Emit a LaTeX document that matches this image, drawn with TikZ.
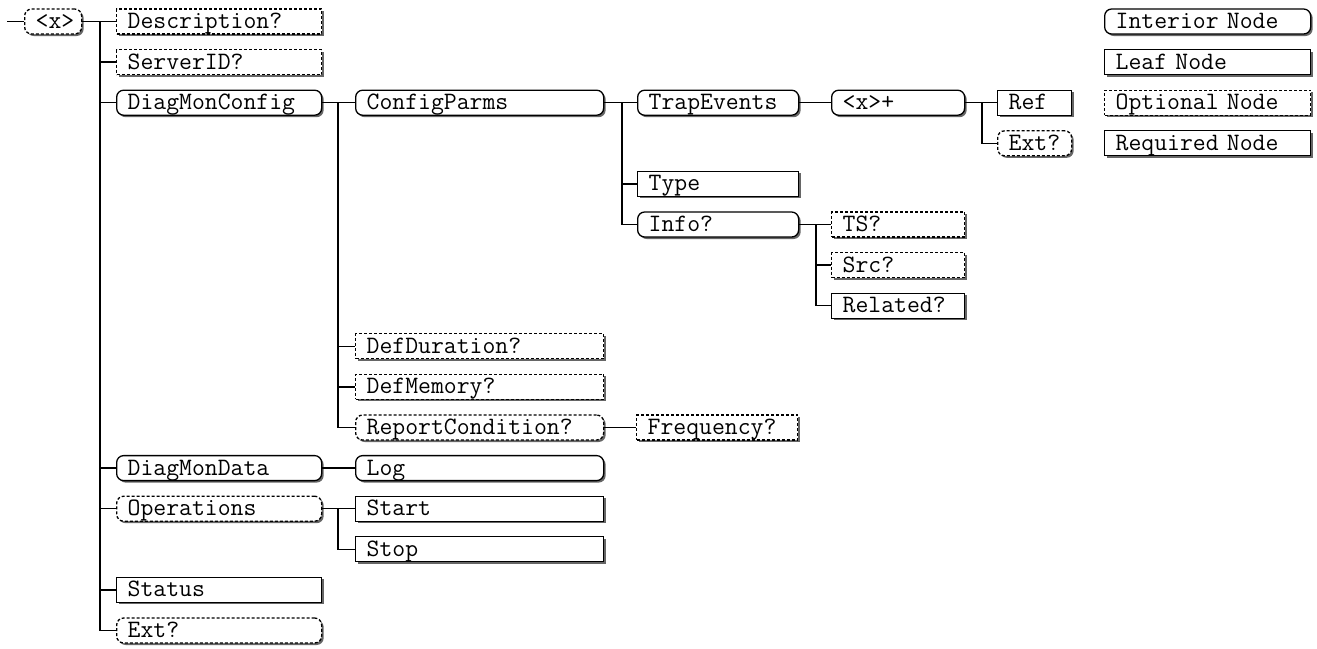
\documentclass[tikz,border=0pt]{standalone}
\usepackage{fontspec}
\usetikzlibrary{shadows,calc}
\tikzset{
  box/.style={draw, line width=1.3pt, fill=white, font=\ttfamily\fontsize{25}{27}\selectfont,
    minimum height=25pt, inner ysep=0pt, text height=19pt, text depth=5pt,
    inner xsep=11pt, anchor=west, align=left,
    drop shadow={shadow xshift=2pt, shadow yshift=-2pt, fill=black!60, opacity=1}},
  intn/.style={box, rounded corners=7pt},
  leaf/.style={box},
  opt/.style={dash pattern=on 3pt off 2pt},
  wA/.style={text width=35pt},
  wB/.style={text width=183pt},
  wC/.style={text width=226pt},
  wD/.style={text width=139pt},
  wE/.style={text width=111pt},
  wF/.style={text width=52pt},
  wL/.style={text width=184pt},
  conn/.style={line width=1.3pt, black}
}
\begin{document}
\begin{tikzpicture}[x=1pt,y=-1pt]
\useasboundingbox[fill=white] (0,0) rectangle (1317,648);
% trunk x positions
\coordinate (t0) at (100,0);
\coordinate (t1) at (338,0);
\coordinate (t2) at (622,0);
\coordinate (t3) at (816,0);
\coordinate (t4) at (982,0);
\coordinate (in) at (7,21.5);
% nodes
\node[intn,opt,wA] (root) at (24,21.5) {<x>};
\node[leaf,opt,wB] (desc) at (116,21.5) {Description?};
\node[leaf,opt,wB] (srv) at (116,62.1) {ServerID?};
\node[intn,wB] (dmc) at (116,102.7) {DiagMonConfig};
\node[intn,wC] (cp) at (355,102.7) {ConfigParms};
\node[intn,wD] (te) at (637,102.7) {TrapEvents};
\node[intn,wE] (xp) at (831,102.7) {<x>+};
\node[leaf,wF] (ref) at (997,102.7) {Ref};
\node[intn,opt,wF] (ext1) at (997,143.3) {Ext?};
\node[leaf,wD] (type) at (637,183.9) {Type};
\node[intn,wD] (info) at (637,224.5) {Info?};
\node[leaf,opt,wE] (ts) at (831,224.5) {TS?};
\node[leaf,opt,wE] (src) at (831,265.1) {Src?};
\node[leaf,wE] (rel) at (831,305.7) {Related?};
\node[leaf,opt,wC] (dd) at (355,346.3) {DefDuration?};
\node[leaf,opt,wC] (dm) at (355,386.9) {DefMemory?};
\node[intn,opt,wC] (rc) at (355,427.5) {ReportCondition?};
\node[leaf,opt,wD] (freq) at (636,427.5) {Frequency?};
\node[intn,wB] (dmd) at (116,468.1) {DiagMonData};
\node[intn,wC] (log) at (355,468.1) {Log};
\node[intn,opt,wB] (ops) at (116,508.7) {Operations};
\node[leaf,wC] (start) at (355,508.7) {Start};
\node[leaf,wC] (stop) at (355,549.3) {Stop};
\node[leaf,wB] (status) at (116,589.9) {Status};
\node[intn,opt,wB] (ext2) at (116,630.5) {Ext?};
% legend
\node[intn,wL] (legI) at (1104,21.5) {Interior Node};
\node[leaf,wL] (legL) at (1104,62.1) {Leaf Node};
\node[leaf,opt,wL] (legO) at (1104,102.7) {Optional Node};
\node[leaf,wL] (legR) at (1104,143.3) {Required Node};
% connectors
\draw[conn] (in) -- (root.west);
\foreach \c in {desc,srv,dmc,dmd,ops,status,ext2}
  \draw[conn] (root.east) -- (root.east -| t0) |- (\c.west);
\foreach \c in {cp,dd,dm,rc}
  \draw[conn] (dmc.east) -- (dmc.east -| t1) |- (\c.west);
\foreach \c in {te,type,info}
  \draw[conn] (cp.east) -- (cp.east -| t2) |- (\c.west);
\draw[conn] (te.east) -- (xp.west);
\foreach \c in {ref,ext1}
  \draw[conn] (xp.east) -- (xp.east -| t4) |- (\c.west);
\foreach \c in {ts,src,rel}
  \draw[conn] (info.east) -- (info.east -| t3) |- (\c.west);
\draw[conn] (rc.east) -- (freq.west);
\draw[conn] (dmd.east) -- (log.west);
\foreach \c in {start,stop}
  \draw[conn] (ops.east) -- (ops.east -| t1) |- (\c.west);
\end{tikzpicture}
\end{document}
